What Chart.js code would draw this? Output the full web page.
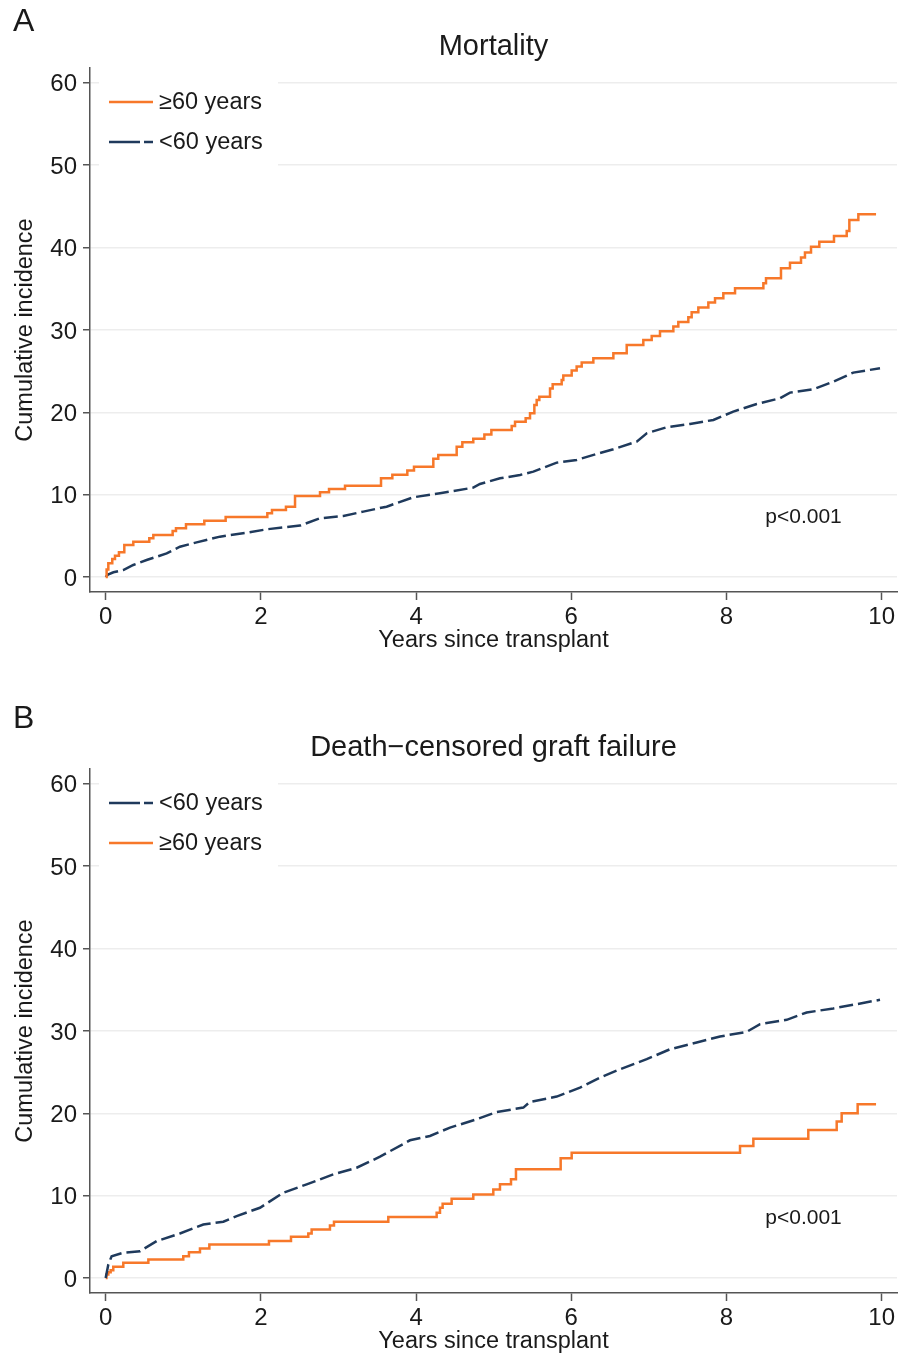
<!DOCTYPE html>
<html>
<head>
<meta charset="utf-8">
<title>Cumulative incidence by age group</title>
<script src="https://cdn.jsdelivr.net/npm/chart.js@4.4.1/dist/chart.umd.min.js"></script>
<style>
  body { margin: 0; background: #fff; }
  .panel { position: absolute; left: 0; width: 899px; height: 656px; }
  #panelA { top: 0; }
  #panelB { top: 701px; }
</style>
</head>
<body>
<div class="panel" id="panelA"><canvas id="chartA" width="899" height="656"></canvas></div>
<div class="panel" id="panelB"><canvas id="chartB" width="899" height="656"></canvas></div>
<script>
// tick labels
const xTicks = [0, 2, 4, 6, 8, 10];
const yTicks = [0, 10, 20, 30, 40, 50, 60];
const pLabel = "p<0.001";

// A: mortality, >=60 years (step times, cumulative incidence %)
const mortOldT = [0, 0.012, 0.034, 0.085, 0.12, 0.171, 0.24, 0.356, 0.562, 0.614, 0.863, 0.906, 1.035, 1.271, 1.546,
  2.083, 2.143, 2.323, 2.44, 2.762, 2.878, 3.084, 3.548, 3.694, 3.887, 3.973, 4.222, 4.286, 4.523, 4.596, 4.737,
  4.88, 4.97, 5.232, 5.275, 5.412, 5.468, 5.524, 5.554, 5.588, 5.726, 5.76, 5.876, 5.897, 6.005, 6.069, 6.134,
  6.284, 6.542, 6.714, 6.928, 7.036, 7.143, 7.315, 7.379, 7.508, 7.551, 7.637, 7.766, 7.852, 7.959, 8.11, 8.475,
  8.509, 8.702, 8.818, 8.96, 9.011, 9.089, 9.196, 9.385, 9.549, 9.583, 9.699, 9.927];
const mortOldV = [0, 0.9, 1.66, 2.19, 2.59, 3.0, 3.89, 4.29, 4.7, 5.1, 5.59, 5.91, 6.4, 6.84, 7.29,
  7.73, 8.14, 8.54, 9.84, 10.28, 10.69, 11.09, 11.98, 12.43, 12.92, 13.4, 14.37, 14.82, 15.83, 16.36, 16.8,
  17.3, 17.85, 18.34, 18.86, 19.27, 19.88, 20.89, 21.5, 21.9, 22.9, 23.4, 23.93, 24.46, 25.07, 25.55, 26.04,
  26.57, 27.17, 28.18, 28.79, 29.27, 29.84, 30.4, 30.97, 31.54, 32.15, 32.71, 33.32, 33.85, 34.45, 35.06, 35.67,
  36.27, 37.48, 38.16, 38.8, 39.41, 40.09, 40.7, 41.39, 42.0, 43.36, 44.05, 44.05];

// A: mortality, <60 years
const mortYoungT = [0, 0.03, 0.1, 0.227, 0.356, 0.528, 0.786, 0.957, 1.172, 1.473, 1.816, 2.074, 2.504, 2.762,
  3.063, 3.32, 3.62, 3.964, 4.308, 4.737, 4.823, 5.081, 5.339, 5.511, 5.812, 6.069, 6.327, 6.542, 6.843, 6.972,
  7.23, 7.53, 7.831, 8.087, 8.389, 8.689, 8.818, 9.119, 9.376, 9.634, 9.978];
const mortYoungV = [0, 0.3, 0.57, 0.85, 1.46, 2.06, 2.87, 3.68, 4.21, 4.9, 5.38, 5.79, 6.24, 7.13,
  7.41, 7.94, 8.54, 9.68, 10.16, 10.85, 11.3, 11.98, 12.39, 12.79, 13.89, 14.21, 14.94, 15.51, 16.44, 17.45,
  18.18, 18.58, 19.07, 20.08, 21.01, 21.7, 22.39, 22.79, 23.72, 24.82, 25.35];

// B: death-censored graft failure, <60 years
const graftYoungT = [0, 0.034, 0.077, 0.227, 0.442, 0.657, 0.957, 1.258, 1.516, 1.688, 1.988, 2.289, 2.59, 2.933,
  3.234, 3.535, 3.921, 4.179, 4.437, 4.78, 5.038, 5.382, 5.468, 5.812, 6.112, 6.37, 6.628, 6.972, 7.273, 7.616,
  7.917, 8.26, 8.432, 8.776, 9.033, 9.376, 9.677, 9.978];
const graftYoungV = [0, 1.64, 2.65, 3.06, 3.26, 4.48, 5.41, 6.5, 6.83, 7.52, 8.53, 10.35, 11.37, 12.58,
  13.39, 14.73, 16.72, 17.24, 18.26, 19.27, 20.16, 20.69, 21.38, 22.03, 23.12, 24.34, 25.35, 26.57, 27.78, 28.59,
  29.32, 29.89, 30.82, 31.35, 32.24, 32.73, 33.25, 33.78];

// B: death-censored graft failure, >=60 years
const graftOldT = [0, 0.01, 0.034, 0.064, 0.098, 0.227, 0.55, 1.0, 1.073, 1.215, 1.336, 2.104, 2.388, 2.611,
  2.654, 2.89, 2.942, 3.642, 4.265, 4.308, 4.342, 4.458, 4.737, 4.995, 5.081, 5.223, 5.287, 5.863, 6.005,
  8.174, 8.346, 9.054, 9.42, 9.484, 9.69, 9.927];
const graftOldV = [0, 0.43, 0.71, 0.95, 1.36, 1.84, 2.25, 2.65, 3.14, 3.59, 4.07, 4.48, 5.0, 5.41,
  5.9, 6.38, 6.83, 7.4, 7.92, 8.53, 9.02, 9.63, 10.15, 10.76, 11.37, 11.98, 13.19, 14.53, 15.22,
  16.03, 16.92, 17.97, 18.99, 20.0, 21.09, 21.09];

const orange = "#f7782a";
const navy = "#1f3a5c";
const axisColor = "#555555";
const gridColor = "#ededed";
const textColor = "#1a1a1a";
const family = '"Liberation Sans", Arial, Helvetica, sans-serif';

function pts(t, v) {
  return t.map((x, i) => ({x: x, y: v[i]}));
}

function oldSeries(t, v) {
  return {
    label: "\u226560 years",
    data: pts(t, v),
    borderColor: orange,
    borderWidth: 2.5,
    stepped: true,
    pointRadius: 0,
    fill: false
  };
}

function youngSeries(t, v) {
  return {
    label: "<60 years",
    data: pts(t, v),
    borderColor: navy,
    borderWidth: 2.5,
    borderDash: [14, 5],
    tension: 0,
    pointRadius: 0,
    fill: false
  };
}

// panel letter, inside legend and p-value
const panelExtras = {
  id: "panelExtras",
  beforeDatasetsDraw(chart, args, opts) {
    const ctx = chart.ctx;
    ctx.save();
    ctx.fillStyle = "#ffffff";
    ctx.fillRect(99, 72, 179, 114);
    ctx.font = "23.5px " + family;
    ctx.textBaseline = "middle";
    chart.data.datasets.forEach((ds, i) => {
      const y = 102 + i * 40;
      ctx.strokeStyle = ds.borderColor;
      ctx.lineWidth = 2.5;
      // legend key: long dash then short dash, like the original
      ctx.setLineDash(ds.borderDash ? [31, 4] : []);
      ctx.beginPath();
      ctx.moveTo(109, y);
      ctx.lineTo(153, y);
      ctx.stroke();
      ctx.setLineDash([]);
      ctx.fillStyle = textColor;
      ctx.fillText(ds.label, 159, y + 1);
    });
    ctx.restore();
  },
  afterDraw(chart, args, opts) {
    const ctx = chart.ctx;
    const {x, y} = chart.scales;
    ctx.save();
    ctx.fillStyle = textColor;
    ctx.textBaseline = "middle";
    ctx.font = "32px " + family;
    ctx.fillText(opts.letter, 13, opts.letterY);
    ctx.font = "21px " + family;
    ctx.fillText(pLabel, x.getPixelForValue(8.5), y.getPixelForValue(7.3));
    ctx.restore();
  }
};

function makeChart(id, title, letter, letterY, datasets) {
  return new Chart(id, {
    type: "line",
    data: {datasets: datasets},
    options: {
      responsive: false,
      animation: false,
      layout: {padding: {left: 0, right: 2, top: 0, bottom: 0}},
      plugins: {
        legend: {display: false},
        tooltip: {enabled: false},
        title: {
          display: true,
          text: title,
          fullSize: false,
          color: textColor,
          font: {family: family, size: 29, weight: "normal"},
          padding: {top: 30, bottom: 3.2}
        },
        panelExtras: {letter: letter, letterY: letterY}
      },
      scales: {
        x: {
          type: "linear",
          min: -0.202,
          max: 10.197,
          afterBuildTicks: s => { s.ticks = xTicks.map(v => ({value: v})); },
          afterFit: s => { s.height = 64; },
          grid: {drawOnChartArea: false, tickColor: axisColor, tickLength: 8, tickWidth: 1.5},
          border: {color: axisColor, width: 1.5},
          ticks: {color: textColor, padding: 3, maxRotation: 0, font: {family: family, size: 24}},
          title: {
            display: true,
            text: "Years since transplant",
            color: textColor,
            font: {family: family, size: 23.5},
            padding: {top: 0, bottom: 1}
          }
        },
        y: {
          type: "linear",
          min: -1.82,
          max: 61.8,
          afterBuildTicks: s => { s.ticks = yTicks.map(v => ({value: v})); },
          afterFit: s => { s.width = 90; },
          grid: {color: gridColor, lineWidth: 1.5, tickColor: axisColor, tickLength: 7, tickWidth: 1.5},
          border: {color: axisColor, width: 1.5},
          ticks: {color: textColor, padding: 6, labelOffset: 2, font: {family: family, size: 24}},
          title: {
            display: true,
            text: "Cumulative incidence",
            color: textColor,
            font: {family: family, size: 23.5},
            padding: {top: 11.4, bottom: 0}
          }
        }
      }
    },
    plugins: [panelExtras]
  });
}

makeChart("chartA", "Mortality", "A", 22, [
  oldSeries(mortOldT, mortOldV),
  youngSeries(mortYoungT, mortYoungV)
]);

makeChart("chartB", "Death\u2212censored graft failure", "B", 18, [
  youngSeries(graftYoungT, graftYoungV),
  oldSeries(graftOldT, graftOldV)
]);
</script>
</body>
</html>
